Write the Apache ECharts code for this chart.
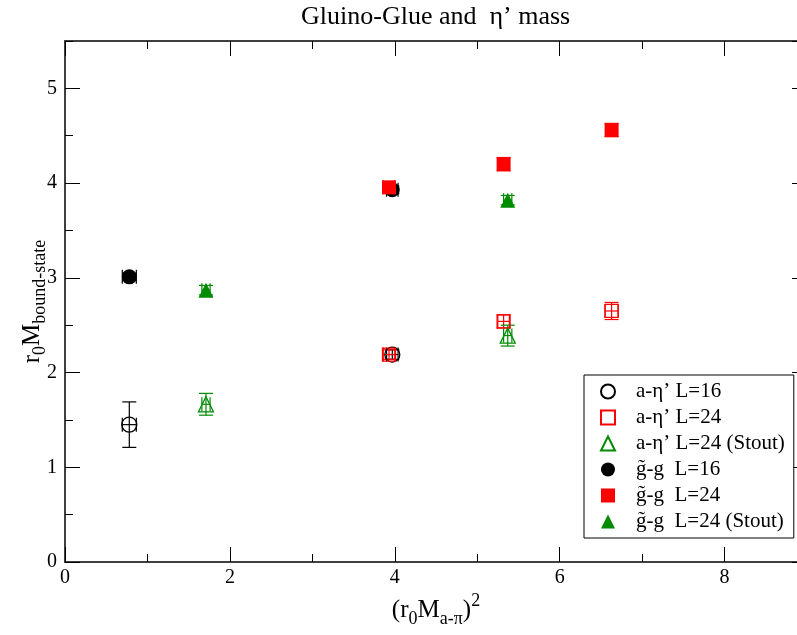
<!DOCTYPE html>
<html>
<head>
<meta charset="utf-8">
<title>Gluino-Glue and eta' mass</title>
<script src="https://cdn.jsdelivr.net/npm/echarts@6/dist/echarts.min.js"></script>
<style>
  html, body { margin: 0; padding: 0; background: #fff; }
  #chart { width: 797px; height: 635px; }
</style>
</head>
<body>
<div id="chart"></div>
<script>
// each point: [x, y, xErr, yErr]
const aEtaL16 = [[0.78, 1.45, 0.085, 0.24], [3.97, 2.19, 0.07, 0.05]];
const aEtaL24 = [[3.93, 2.19, 0.07, 0.05], [5.32, 2.54, 0.07, 0.07], [6.63, 2.65, 0.08, 0.09]];
const aEtaL24Stout = [[1.71, 1.665, 0.05, 0.115], [5.37, 2.39, 0.05, 0.11]];
const ggL16 = [[0.78, 3.01, 0.085, 0.04], [3.97, 3.93, 0.07, 0.04]];
const ggL24 = [[3.93, 3.955, 0.07, 0.05], [5.32, 4.20, 0.07, 0.07], [6.63, 4.56, 0.07, 0.07]];
const ggL24Stout = [[1.71, 2.87, 0.05, 0.05], [5.37, 3.82, 0.05, 0.05]];

const seriesNames = ['a-η’ L=16', 'a-η’ L=24', 'a-η’ L=24 (Stout)', 'g̃-g  L=16', 'g̃-g  L=24', 'g̃-g  L=24 (Stout)'];

const FONT = 'Liberation Serif';
const BLACK = '#000000', RED = '#ff0000', GREEN = '#008b00';

// error bars through the axes' own coordinate mapping
function errorBars(data, color) {
  return {
    type: 'custom',
    xAxisIndex: 0,
    yAxisIndex: 0,
    silent: true,
    encode: { x: 0, y: 1 },
    data: data,
    renderItem: function (params, api) {
      const x = api.value(0), y = api.value(1), xe = api.value(2), ye = api.value(3);
      const l = api.coord([x - xe, y]), r = api.coord([x + xe, y]);
      const t = api.coord([x, y + ye]), b = api.coord([x, y - ye]);
      const cap = 7;
      const st = { stroke: color, lineWidth: 1.2 };
      const line = (x1, y1, x2, y2) => ({ type: 'line', shape: { x1, y1, x2, y2 }, style: st });
      return {
        type: 'group',
        children: [
          line(l[0], l[1], r[0], r[1]),
          line(l[0], l[1] - cap, l[0], l[1] + cap),
          line(r[0], r[1] - cap, r[0], r[1] + cap),
          line(t[0], t[1], b[0], b[1]),
          line(t[0] - cap, t[1], t[0] + cap, t[1]),
          line(b[0] - cap, b[1], b[0] + cap, b[1])
        ]
      };
    },
    z: 2
  };
}

function points(name, data, symbol, size, color, open) {
  return {
    name: name,
    type: 'scatter',
    xAxisIndex: 0,
    yAxisIndex: 0,
    symbol: symbol,
    symbolSize: size,
    data: data.map(d => [d[0], d[1]]),
    itemStyle: open
      ? { color: 'rgba(255,255,255,0)', borderColor: color, borderWidth: 1.3, opacity: 1 }
      : { color: color, borderColor: color, borderWidth: 0, opacity: 1 },
    emphasis: { disabled: true },
    z: 3
  };
}

function xAx(pos, interval, len, main) {
  return {
    type: 'value', position: pos, min: 0, max: 9, interval: interval,
    axisLine: { show: main, onZero: false, lineStyle: { color: BLACK, width: 1.5 } },
    axisTick: { show: true, inside: true, length: len, lineStyle: { color: BLACK, width: 1 } },
    axisLabel: { show: main && pos === 'bottom', showMaxLabel: false, margin: 6, color: BLACK, fontFamily: FONT, fontSize: 20 },
    splitLine: { show: false }
  };
}
function yAx(pos, interval, len, main) {
  return {
    type: 'value', position: pos, min: 0, max: 5.5, interval: interval,
    axisLine: { show: main, onZero: false, lineStyle: { color: BLACK, width: 1.5 } },
    axisTick: { show: true, inside: true, length: len, lineStyle: { color: BLACK, width: 1 } },
    axisLabel: { show: main && pos === 'left', showMaxLabel: false, margin: 8, color: BLACK, fontFamily: FONT, fontSize: 20 },
    splitLine: { show: false }
  };
}

const xAxes = [xAx('bottom', 2, 15, true), xAx('bottom', 1, 8, false), xAx('top', 2, 15, true), xAx('top', 1, 8, false)];
xAxes[0].name = '{a|(r}{s|0}{a|M}{s|a-π}{a|)}{p|2}';
xAxes[0].nameLocation = 'middle';
xAxes[0].nameGap = 30;
xAxes[0].nameMoveOverlap = false;
xAxes[0].nameTextStyle = {
  fontFamily: FONT, color: BLACK,
  rich: {
    a: { fontFamily: FONT, fontSize: 25, lineHeight: 36, verticalAlign: 'middle', color: BLACK },
    s: { fontFamily: FONT, fontSize: 18, lineHeight: 16, verticalAlign: 'bottom', color: BLACK },
    p: { fontFamily: FONT, fontSize: 18, lineHeight: 16, verticalAlign: 'top', color: BLACK }
  }
};

const yAxes = [yAx('left', 1, 15, true), yAx('left', 0.5, 8, false), yAx('right', 1, 15, true), yAx('right', 0.5, 8, false)];
yAxes[0].name = '{a|r}{s|0}{a|M}{s|bound-state}';
yAxes[0].nameLocation = 'middle';
yAxes[0].nameRotate = 90;
yAxes[0].nameGap = 16;
yAxes[0].nameMoveOverlap = false;
yAxes[0].nameTextStyle = {
  fontFamily: FONT, color: BLACK,
  rich: {
    a: { fontFamily: FONT, fontSize: 25, lineHeight: 34, verticalAlign: 'middle', color: BLACK },
    s: { fontFamily: FONT, fontSize: 18, lineHeight: 16, verticalAlign: 'bottom', color: BLACK }
  }
};

const chart = echarts.init(document.getElementById('chart'), null, { renderer: 'canvas' });
chart.setOption({
  backgroundColor: '#ffffff',
  animation: false,
  title: {
    text: 'Gluino-Glue and  η’ mass',
    left: 301,
    top: 4,
    padding: 0,
    textStyle: { fontFamily: FONT, fontSize: 26, fontWeight: 'normal', color: BLACK }
  },
  grid: { left: 65, top: 41, width: 742, bottom: 73, containLabel: false, outerBoundsMode: 'none' },
  xAxis: xAxes,
  yAxis: yAxes,
  legend: {
    data: seriesNames,
    orient: 'vertical',
    left: 584,
    top: 375,
    padding: [6, 9, 6, 16],
    itemWidth: 14,
    itemHeight: 14,
    itemGap: 5,
    backgroundColor: '#ffffff',
    borderColor: BLACK,
    borderWidth: 1,
    borderRadius: 0,
    selectedMode: false,
    textStyle: { fontFamily: FONT, fontSize: 21, lineHeight: 21, color: BLACK, padding: [0, 0, 0, 16] }
  },
  series: [
    errorBars(aEtaL16, BLACK),
    points(seriesNames[0], aEtaL16, 'circle', 15, BLACK, true),
    errorBars(aEtaL24, RED),
    points(seriesNames[1], aEtaL24, 'rect', 13, RED, true),
    errorBars(aEtaL24Stout, GREEN),
    points(seriesNames[2], aEtaL24Stout, 'triangle', 15, GREEN, true),
    errorBars(ggL16, BLACK),
    points(seriesNames[3], ggL16, 'circle', 15, BLACK, false),
    errorBars(ggL24, RED),
    points(seriesNames[4], ggL24, 'rect', 14, RED, false),
    errorBars(ggL24Stout, GREEN),
    points(seriesNames[5], ggL24Stout, 'triangle', 15, GREEN, false)
  ]
});
</script>
</body>
</html>
